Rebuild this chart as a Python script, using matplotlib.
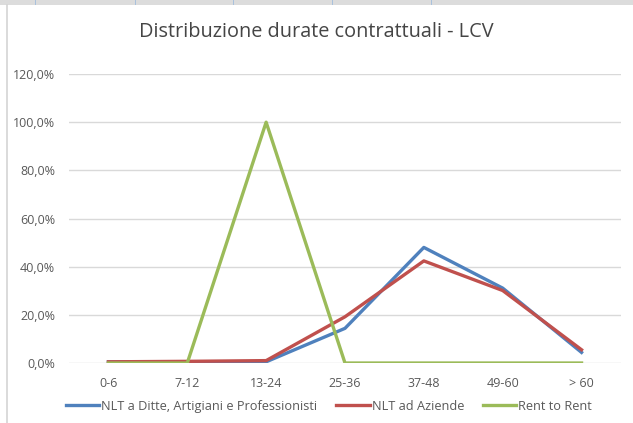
import matplotlib.pyplot as plt
from matplotlib.lines import Line2D
from matplotlib.patches import Rectangle

# Data
categories = ['0-6', '7-12', '13-24', '25-36', '37-48', '49-60', '> 60']
nlt_ditte = [0.5, 0.5, 0.5, 14.4, 48.0, 31.1, 4.4]
nlt_aziende = [0.5, 0.7, 1.0, 19.2, 42.4, 30.1, 5.5]
rent_to_rent = [0.0, 0.0, 100.0, 0.0, 0.0, 0.0, 0.0]
yticks = [0, 20, 40, 60, 80, 100, 120]

plt.rcParams['font.family'] = ['Open Sans', 'DejaVu Sans']

W, H = 633, 423
fig = plt.figure(figsize=(W / 100, H / 100), dpi=100)
ax = fig.add_axes([0.109, 0.1418, 0.872, 0.6832])

# spreadsheet frame around the chart
fig.patches.append(Rectangle((0, 1 - 5 / H), 1, 5 / H, transform=fig.transFigure,
                             facecolor='#dcdcdc', edgecolor='none'))
for px in [35, 135, 233, 332, 431]:
    fig.patches.append(Rectangle((px / W, 1 - 5 / H), 1 / W, 5 / H,
                                 transform=fig.transFigure, facecolor='#a9c1dc', edgecolor='none'))
fig.add_artist(Line2D([7 / W, 7 / W], [0, 1 - 5 / H], transform=fig.transFigure,
                      color='#d4d4d4', lw=1.2))

x = range(len(categories))
ax.plot(x, nlt_ditte, color='#4F81BD', lw=2.4, label='NLT a Ditte, Artigiani e Professionisti')
ax.plot(x, nlt_aziende, color='#C0504D', lw=2.4, label='NLT ad Aziende')
ax.plot(x, rent_to_rent, color='#9BBB59', lw=2.4, label='Rent to Rent')

ax.set_xlim(-0.5, len(categories) - 0.5)
ax.set_ylim(0, 120)
ax.set_yticks(yticks)
ax.set_yticklabels([f'{v:.1f}%'.replace('.', ',') for v in yticks])
ax.set_xticks(list(x))
ax.set_xticklabels(categories)
ax.grid(axis='y', color='#d9d9d9', lw=1)
ax.set_axisbelow(True)
for s in ax.spines.values():
    s.set_visible(False)
ax.tick_params(length=0, labelsize=9, colors='#595959', pad=10)
ax.tick_params(axis='x', pad=10)

fig.text(0.5, 1 - 32 / H, 'Distribuzione durate contrattuali - LCV', ha='center', va='center',
         fontsize=14.3, color='#454545')

fig.legend(loc='center', bbox_to_anchor=(329 / W, 1 - 406 / H), ncol=3, frameon=False,
           fontsize=9.2, labelcolor='#595959', handlelength=2.6, handletextpad=0.15,
           columnspacing=1.5)

fig.savefig('out.png', dpi=100)
